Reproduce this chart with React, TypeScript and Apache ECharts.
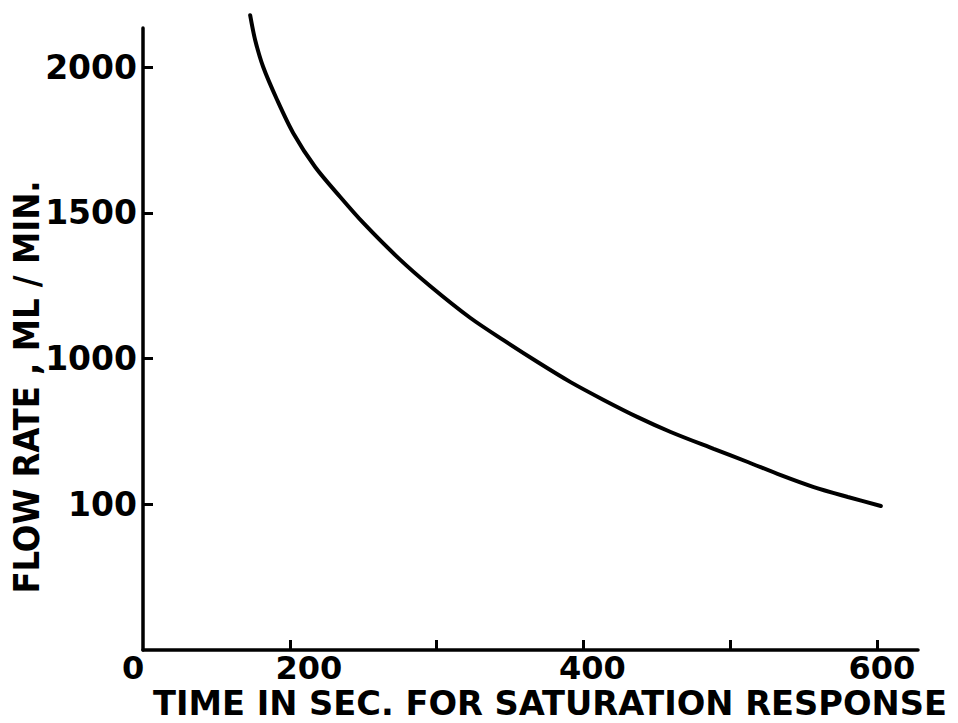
import React, { useEffect, useRef } from "react";
import * as echarts from "echarts";

const timeSec = [173, 176.4, 181.9, 191.4, 202.3, 217.3, 234.4, 250.1, 273.3, 295.8, 323.1, 345.6, 368.8, 391.3, 413.8, 437.0, 459.5, 488.8, 512.0, 534.5, 557.0, 580.2, 602.7];
const flowRate = [2178, 2093, 2000, 1887, 1774, 1657, 1554, 1465, 1348, 1248, 1139, 1063, 988, 919, 858, 799, 748, 690, 645, 600, 559, 525, 494];

const xTickValues = [200, 300, 400, 500, 600];
const xLabelValues = [100, 200, 400, 600];
const xLabelText: Record<number, string> = { 100: "0", 200: "200", 400: "400", 600: "600" };
const yTickValues = [500, 1000, 1500, 2000];
const yLabelText: Record<number, string> = { 500: "100", 1000: "1000", 1500: "1500", 2000: "2000" };

const xTitle = "TIME IN SEC. FOR SATURATION RESPONSE";
const yTitle = "FLOW RATE , ML / MIN.";

const labelFont = { color: "#000", fontFamily: "DejaVu Sans", fontWeight: "bold" as const, fontSize: 33 };
const xLabelFont = { ...labelFont, fontSize: 32 };

export default function App() {
  const ref = useRef<HTMLDivElement>(null);
  useEffect(() => {
    if (!ref.current) return;
    const chart = echarts.init(ref.current, null, { renderer: "svg" });
    const data = timeSec.map((t, i) => [t, flowRate[i]]);
    chart.setOption({
      animation: false,
      backgroundColor: "#ffffff",
      grid: { left: 143, right: 40, top: 28, bottom: 73 },
      xAxis: {
        type: "value",
        min: 100,
        max: 628,
        splitLine: { show: false },
        axisLine: { show: true, lineStyle: { color: "#000", width: 3.5 } },
        axisTick: {
          show: true,
          inside: true,
          length: 10,
          customValues: xTickValues,
          lineStyle: { color: "#000", width: 3 },
        },
        axisLabel: {
          customValues: xLabelValues,
          formatter: (v: number) => `{l${v}|${xLabelText[v] ?? ""}}`,
          ...xLabelFont,
          margin: 2,
          rich: {
            l100: { ...xLabelFont, padding: [0, 20, 0, 0] },
            l200: { ...xLabelFont, padding: [0, 0, 0, 38] },
            l400: { ...xLabelFont, padding: [0, 0, 0, 18] },
            l600: { ...xLabelFont, padding: [0, 0, 0, 10] },
          },
        },
      },
      yAxis: {
        type: "value",
        min: 0,
        max: 2134,
        splitLine: { show: false },
        axisLine: { show: true, lineStyle: { color: "#000", width: 3.5 } },
        axisTick: {
          show: true,
          inside: true,
          length: 10,
          customValues: yTickValues,
          lineStyle: { color: "#000", width: 3 },
        },
        axisLabel: {
          customValues: yTickValues,
          formatter: (v: number) => yLabelText[v] ?? "",
          ...labelFont,
          margin: 6,
        },
      },
      graphic: [
        {
          type: "text",
          x: 550,
          y: 703,
          scaleX: 1.1,
          style: {
            text: xTitle,
            fill: "#000",
            font: "bold 34px 'DejaVu Sans Condensed', 'DejaVu Sans'",
            align: "center",
            verticalAlign: "middle",
          },
        },
        {
          type: "text",
          x: 26,
          y: 387,
          rotation: Math.PI / 2,
          style: {
            text: yTitle,
            fill: "#000",
            font: "bold 36px 'DejaVu Sans Condensed', 'DejaVu Sans'",
            align: "center",
            verticalAlign: "middle",
          },
        },
      ],
      series: [
        {
          type: "line",
          data,
          smooth: 0.3,
          clip: false,
          symbol: "none",
          lineStyle: { color: "#000", width: 4, cap: "round" },
        },
      ],
    });
    return () => chart.dispose();
  }, []);
  return <div ref={ref} style={{ width: 958, height: 723, position: "absolute", left: 0, top: 0 }} />;
}
